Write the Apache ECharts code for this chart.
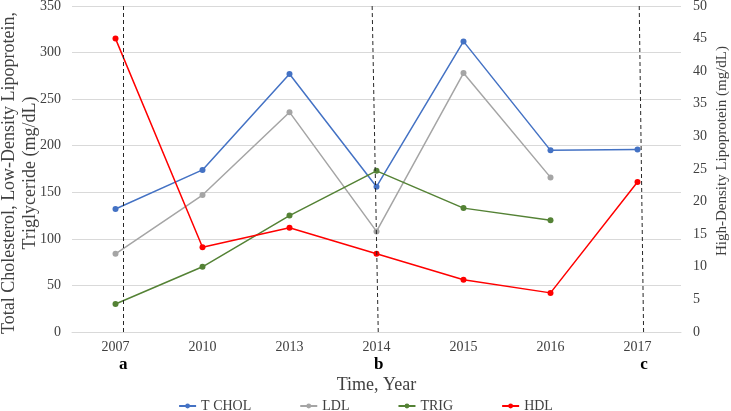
<!DOCTYPE html>
<html>
<head>
<meta charset="utf-8">
<script src="https://cdn.jsdelivr.net/npm/echarts@6/dist/echarts.min.js"></script>
<style>html,body{margin:0;padding:0;background:#fff}#c{width:731px;height:411px}</style>
</head>
<body>
<div id="c"></div>
<script>
var years = ['2007', '2010', '2013', '2014', '2015', '2016', '2017'];
var tChol = [132, 174, 277, 156, 312, 195, 196];
var ldl = [84, 147, 236, 108, 278, 166, null];
var trig = [30, 70, 125, 173, 133, 120, null];
var hdl = [45, 13, 16, 12, 8, 6, 23];
// annotation markers: label, position (in category index units) at bottom and top
var markNames = ['a', 'b', 'c'];
var markBottom = [0.09, 3.02, 6.07];
var markTop = [0.09, 2.95, 6.02];

var FONT = '"Liberation Serif", "Times New Roman", serif';
var chart = echarts.init(document.getElementById('c'), null, {renderer: 'canvas'});

var markData = markNames.map(function (n, i) {
  return [{name: n, coord: [markBottom[i], 0]}, {coord: [markTop[i], 350]}];
});

function lineSeries(name, data, color, yIdx) {
  return {
    name: name, type: 'line', data: data, yAxisIndex: yIdx,
    symbol: 'circle', symbolSize: 6,
    lineStyle: {color: color, width: 1.5},
    itemStyle: {color: color},
    connectNulls: false
  };
}

chart.setOption({
  animation: false,
  textStyle: {fontFamily: FONT},
  grid: {left: 72, right: 50, top: 6, bottom: 79, containLabel: false, outerBoundsMode: 'none'},
  legend: {
    top: 394, left: 'center', itemGap: 48, itemWidth: 17, itemHeight: 6,
    data: ['T CHOL', 'LDL', 'TRIG', 'HDL'],
    textStyle: {fontFamily: FONT, fontSize: 14, color: '#404040'}
  },
  xAxis: [{
    type: 'category', data: years, boundaryGap: true,
    axisLine: {lineStyle: {color: '#d9d9d9'}},
    axisTick: {show: false},
    axisLabel: {fontFamily: FONT, fontSize: 14, color: '#404040', margin: 8},
    name: 'Time, Year', nameLocation: 'middle', nameGap: 44, nameMoveOverlap: false,
    nameTextStyle: {fontFamily: FONT, fontSize: 18, color: '#404040'}
  }, {
    type: 'value', min: -0.5, max: 6.5, show: false
  }],
  yAxis: [{
    type: 'value', min: 0, max: 350, interval: 50,
    axisLine: {show: false}, axisTick: {show: false},
    splitLine: {lineStyle: {color: '#d9d9d9'}},
    axisLabel: {fontFamily: FONT, fontSize: 14, color: '#404040', margin: 11},
    name: 'Total Cholesterol, Low-Density Lipoprotein,\nTriglyceride (mg/dL)',
    nameLocation: 'middle', nameGap: 31, nameMoveOverlap: false,
    nameTextStyle: {fontFamily: FONT, fontSize: 18, color: '#404040', lineHeight: 21, padding: [0, 8, 0, 0]}
  }, {
    type: 'value', min: 0, max: 50, interval: 5, position: 'right',
    axisLine: {show: false}, axisTick: {show: false}, splitLine: {show: false},
    axisLabel: {fontFamily: FONT, fontSize: 14, color: '#404040', margin: 12},
    name: 'High-Density Lipoprotein (mg/dL)',
    nameLocation: 'middle', nameGap: 34, nameRotate: 90, nameMoveOverlap: false,
    nameTextStyle: {fontFamily: FONT, fontSize: 15, color: '#404040', padding: [0, 0, 0, 36]}
  }],
  series: [
    lineSeries('T CHOL', tChol, '#4472C4', 0),
    lineSeries('LDL', ldl, '#A5A5A5', 0),
    lineSeries('TRIG', trig, '#548235', 0),
    lineSeries('HDL', hdl, '#FF0000', 1),
    {
      name: 'marks', type: 'line', xAxisIndex: 1, yAxisIndex: 0, data: [],
      clip: false, silent: true,
      markLine: {
        silent: true, symbol: ['none', 'none'], animation: false,
        lineStyle: {color: '#262626', type: [4, 3], width: 1},
        label: {show: true, position: 'start', formatter: '{b}', distance: 24,
          fontFamily: FONT, fontSize: 17, fontWeight: 'bold', color: '#000'},
        emphasis: {disabled: true},
        data: markData
      }
    }
  ]
});
</script>
</body>
</html>
